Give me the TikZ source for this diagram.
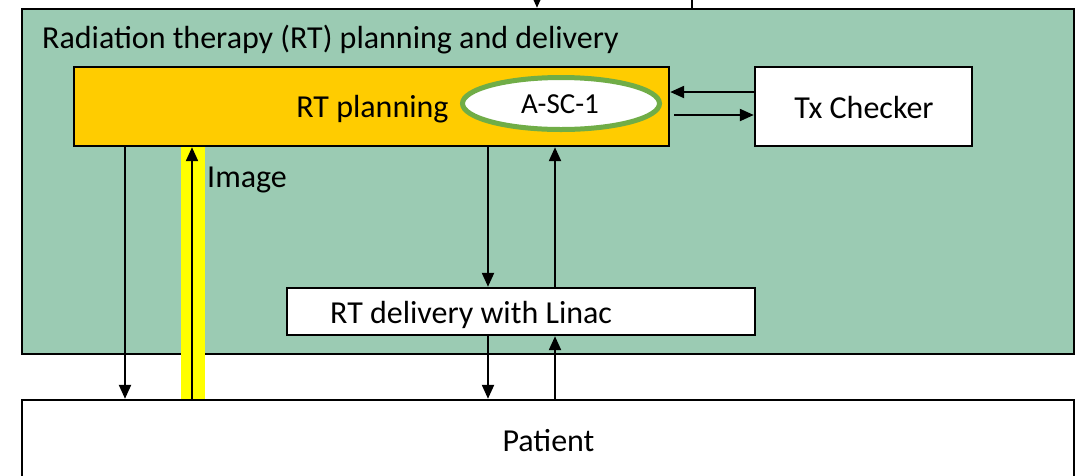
\documentclass[tikz,border=0pt]{standalone}
\usepackage{fontspec}
\setmainfont{Carlito}
\usetikzlibrary{arrows.meta,shapes.geometric}
\definecolor{panelgreen}{HTML}{9BCBB3}
\definecolor{planorange}{HTML}{FFCC00}
\definecolor{imgyellow}{HTML}{FFFF00}
\definecolor{ovalgreen}{HTML}{70AD47}
\tikzset{
  box/.style={draw=black, line width=2.4pt, inner sep=0pt},
  arr/.style={line width=2.2pt, -{Triangle[length=14pt,width=12pt]}},
  plainline/.style={line width=2.2pt},
  lbl/.style={inner sep=0pt, font=\fontsize{32}{36}\selectfont}
}
\begin{document}
\begin{tikzpicture}[x=1pt,y=-1pt]
\useasboundingbox (0,0) rectangle (1081,475);
\clip (0,0) rectangle (1081,475);
\fill[white] (0,0) rectangle (1081,475);

% outer panel
\node[box, fill=panelgreen, minimum width=1052pt, minimum height=345pt] (panel) at (548,181.5) {};
\node[lbl, anchor=base west] (title) at (42,48) {Radiation therapy (RT) planning and delivery};

% boxes
\node[box, fill=planorange, minimum width=595pt, minimum height=79pt] (plan) at (371.5,106.5) {};
\node[lbl, anchor=base] (plantxt) at (372.5,117.5) {RT planning};
\node[ellipse, draw=ovalgreen, line width=5pt, fill=white, minimum width=197pt, minimum height=52pt, inner sep=0pt] (asc) at (561,103.5) {};
\node[lbl, font=\fontsize{29}{33}\selectfont, anchor=base] (asctxt) at (560,113) {A-SC-1};
\node[box, fill=white, minimum width=217pt, minimum height=79pt] (tx) at (863.5,106.5) {};
\node[lbl, anchor=base] (txtxt) at (864,118) {Tx Checker};
\node[box, fill=white, minimum width=468pt, minimum height=47pt] (deliv) at (521,311.5) {};
\node[lbl, anchor=base west] (delivtxt) at (330,323) {RT delivery with Linac};
\node[box, fill=white, minimum width=1052pt, minimum height=84pt] (patient) at (548,442) {};
\node[lbl, anchor=base] (patienttxt) at (548.5,451) {Patient};

% x / y positions of the connectors
\coordinate (xin) at (537,0);
\coordinate (xout) at (692,0);
\coordinate (xleft) at (125,0);
\coordinate (ximg) at (192,0);
\coordinate (ximgl) at (181,0);
\coordinate (ximgr) at (205,0);
\coordinate (xdown) at (488,0);
\coordinate (xup) at (555,0);
\coordinate (yback) at (0,92);
\coordinate (yfwd) at (0,115);

% image channel
\fill[imgyellow] (plan.south -| ximgl) rectangle (patient.north -| ximgr);
\draw[arr] (patient.north -| ximg) -- (plan.south -| ximg);
\node[lbl, anchor=base west] (imgtxt) at (207,187) {Image};

% connectors
\draw[arr] (xin) -- (panel.north -| xin);
\draw[plainline] (panel.north -| xout) -- (xout);
\draw[arr] (tx.west |- yback) -- (plan.east |- yback);
\draw[arr, shorten <=4pt] (plan.east |- yfwd) -- (tx.west |- yfwd);
\draw[arr] (plan.south -| xdown) -- (deliv.north -| xdown);
\draw[arr] (deliv.north -| xup) -- (plan.south -| xup);
\draw[arr] (deliv.south -| xdown) -- (patient.north -| xdown);
\draw[arr] (patient.north -| xup) -- (deliv.south -| xup);
\draw[arr] (plan.south -| xleft) -- (patient.north -| xleft);
\end{tikzpicture}
\end{document}
